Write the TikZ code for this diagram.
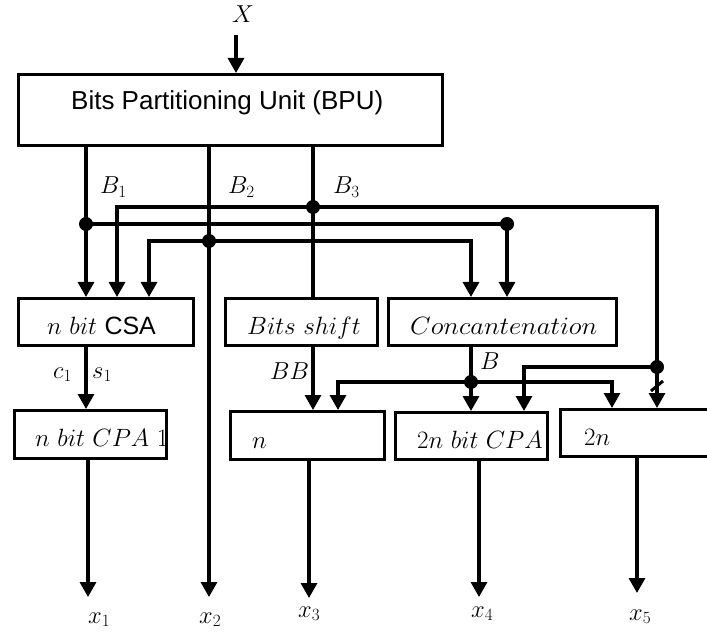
\RequirePackage{fix-cm}
\documentclass[tikz,border=0pt]{standalone}
\usepackage{fontspec}
\newfontfamily\arial{Liberation Sans}
\usetikzlibrary{arrows.meta}
\begin{document}
\begin{tikzpicture}[x=1pt,y=-1pt,
  box/.style={draw,line width=3.4pt,rectangle,inner sep=0pt},
  conn/.style={line width=3.2pt},
  arr/.style={conn,-{Triangle[length=15pt,width=16pt]}},
  dot/.style={circle,fill,inner sep=0pt,minimum size=14pt},
  txt/.style={inner sep=0pt,anchor=base west},
  mtxt/.style={txt,font=\fontsize{25}{28}\selectfont},
  lbl/.style={txt,font=\fontsize{24.5}{27}\selectfont},
  stxt/.style={txt,font=\arial\fontsize{26}{29}\selectfont}]
\useasboundingbox (0,0) rectangle (707,636);
\clip (0,0) rectangle (707,636);

% boxes
\node[box,minimum width=423.6pt,minimum height=70.6pt] (BPU) at (230.5,110) {};
\node[box,minimum width=174.6pt,minimum height=46.6pt] (CSA) at (106,322) {};
\node[box,minimum width=151.6pt,minimum height=46.6pt] (BS) at (301.5,322) {};
\node[box,minimum width=227.6pt,minimum height=46.6pt] (Conc) at (502.5,322) {};
\node[box,minimum width=151.6pt,minimum height=47.6pt] (CPA1) at (90.5,434.5) {};
\node[box,minimum width=153.6pt,minimum height=47.6pt] (N) at (307.5,435.5) {};
\node[box,minimum width=151.6pt,minimum height=46.6pt] (C2) at (471.5,436) {};
\node[box,minimum width=200pt,minimum height=46.6pt] (T2n) at (660.7,433) {};

% box texts
\node[stxt] (BPUt) at (71,110) {Bits Partitioning Unit (BPU)};
\node[mtxt] (CSAt) at (47,335) {$n\ bit$ {\arial\fontsize{25}{28}\selectfont CSA}};
\node[mtxt] (BSt) at (247,335) {$Bits\ shift$};
\node[mtxt] (Conct) at (410,335) {\scalebox{1.07}[1]{$Concantenation$}};
\node[mtxt] (CPA1t) at (35,446) {$n\ bit\ CPA\ 1$};
\node[mtxt] (Nt) at (252,448) {$n$};
\node[mtxt] (C2t) at (417,448) {$2n\ bit\ CPA$};
\node[mtxt] (T2nt) at (584,445) {$2n$};

% labels
\node[lbl] (Xl) at (232,23) {$X$};
\node[lbl] (B1l) at (100,194) {$B_1$};
\node[lbl] (B2l) at (228,194) {$B_2$};
\node[lbl] (B3l) at (333,194) {$B_3$};
\node[lbl] (c1l) at (53,378) {$c_1$};
\node[lbl] (s1l) at (92,378) {$s_1$};
\node[lbl] (BBl) at (270,380) {$BB$};
\node[lbl] (Bl) at (480,370) {$B$};
\node[lbl] (x1l) at (88,623) {$x_1$};
\node[lbl] (x2l) at (199,623) {$x_2$};
\node[lbl] (x3l) at (298,617) {$x_3$};
\node[lbl] (x4l) at (471,617) {$x_4$};
\node[lbl] (x5l) at (629,620) {$x_5$};

% coordinates
\coordinate (xin) at (236,35);
\coordinate (j3) at (313,207);
\coordinate (j1) at (86,224);
\coordinate (j2) at (209,241);
\coordinate (jc) at (507,224);
\coordinate (jB) at (471,382);
\coordinate (jR) at (657,367);
\coordinate (o1) at (88,597);
\coordinate (o2) at (209,597);
\coordinate (o3) at (309,598);
\coordinate (o4) at (479,597);
\coordinate (o5) at (637,593);

% connectors
\draw[arr] (xin) -- (xin |- BPU.north);
\draw[arr] (BPU.south -| j1) -- (CSA.north -| j1);
\draw[arr] (BPU.south -| j2) -- (o2);
\draw[conn] (BPU.south -| j3) -- (BS.north -| j3);
\draw[arr] (j3) -| (CSA.north -| 117,0);
\draw[arr] (j3) -| (T2n.north -| jR);
\draw[conn] (j1) -- (jc);
\draw[arr] (jc) -- (Conc.north -| jc);
\draw[arr] (j2) -| (CSA.north -| 149,0);
\draw[arr] (j2) -| (Conc.north -| jB);
\draw[arr] (CSA.south -| j1) -- (CPA1.north -| j1);
\draw[arr] (BS.south -| j3) -- (N.north -| j3);
\draw[arr] (Conc.south -| jB) -- (C2.north -| jB);
\draw[arr] (jB) -| (N.north -| 338,0);
\draw[arr] (jB) -| (T2n.north -| 612,0);
\draw[arr] (jR) -| (C2.north -| 524,0);
\draw[line width=3pt] (651,391) -- (663,381);
\draw[arr] (CPA1.south -| o1) -- (o1);
\draw[arr] (N.south -| o3) -- (o3);
\draw[arr] (C2.south -| o4) -- (o4);
\draw[arr] (T2n.south -| o5) -- (o5);

% junction dots
\foreach \p in {j1,j2,j3,jc,jB,jR} \node[dot] at (\p) {};
\end{tikzpicture}
\end{document}
